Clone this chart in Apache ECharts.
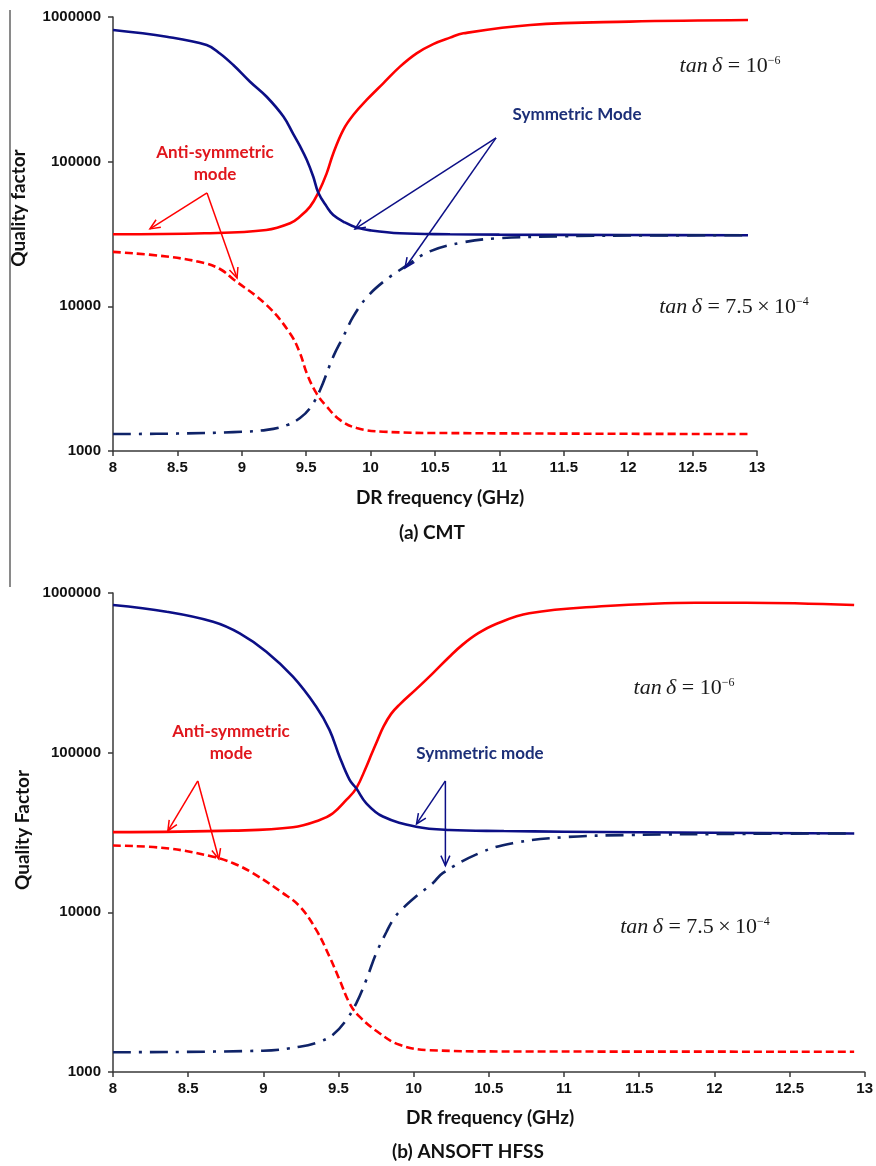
<!DOCTYPE html>
<html>
<head>
<meta charset="utf-8">
<script src="https://cdn.jsdelivr.net/npm/echarts@6/dist/echarts.min.js"></script>
<style>
html, body { margin: 0; padding: 0; background: #fff; }
#main { width: 876px; height: 1166px; }
</style>
</head>
<body>
<div id="main"></div>
<script>
// x ticks (GHz) and y ticks (quality factor), shared by both panels
var freqTicks = [8, 8.5, 9, 9.5, 10, 10.5, 11, 11.5, 12, 12.5, 13];
var qTicks = [1000, 10000, 100000, 1000000];

// (a) CMT
var cmtSymFreq = [8.0, 8.417, 8.727, 8.83, 8.934, 9.064, 9.193, 9.323, 9.40, 9.452, 9.504, 9.555, 9.594, 9.659, 9.71, 9.80, 9.892, 10.0, 10.228, 10.617, 11.0, 12.0, 12.93];
var cmtSymQ = [813000, 731000, 640000, 560000, 466000, 357000, 281000, 205000, 155000, 128000, 103000, 78700, 61000, 48900, 42800, 38000, 35000, 33500, 32000, 31500, 31300, 31100, 31000];
var cmtAntiFreq = [8.0, 8.71, 9.19, 9.375, 9.452, 9.53, 9.594, 9.659, 9.71, 9.788, 9.865, 9.969, 10.098, 10.228, 10.357, 10.486, 10.617, 10.72, 11.24, 12.01, 12.93];
var cmtAntiQ = [31500, 32000, 33700, 37500, 41700, 48900, 61000, 83000, 114000, 166000, 210000, 267000, 348000, 454000, 561000, 650000, 720000, 771000, 881000, 929000, 953000];
var cmtAntiLossFreq = [8.0, 8.417, 8.71, 8.84, 8.934, 9.193, 9.375, 9.452, 9.504, 9.58, 9.659, 9.762, 9.892, 10.098, 10.617, 12.93];
var cmtAntiLossQ = [23800, 22100, 19900, 17900, 15400, 10200, 6500, 4740, 3450, 2500, 2030, 1640, 1440, 1360, 1330, 1310];
var cmtSymLossFreq = [8.0, 8.5, 8.934, 9.193, 9.35, 9.452, 9.53, 9.607, 9.71, 9.788, 9.865, 9.969, 10.1, 10.267, 10.46, 10.72, 10.98, 11.5, 12.2, 12.93];
var cmtSymLossQ = [1310, 1320, 1350, 1400, 1510, 1690, 1980, 2630, 4490, 6170, 8480, 11500, 14800, 18800, 24000, 27700, 29500, 30500, 30900, 31000];

// (b) ANSOFT HFSS
var hfssSymFreq = [8.0, 8.356, 8.666, 8.843, 9.02, 9.197, 9.352, 9.44, 9.507, 9.574, 9.618, 9.685, 9.795, 10.017, 10.238, 10.6, 11.0, 12.0, 12.93];
var hfssSymQ = [841000, 764000, 661000, 559000, 429000, 299000, 194000, 139000, 94400, 67500, 59800, 48200, 39800, 34400, 32800, 32300, 32000, 31500, 31200];
var hfssAntiFreq = [8.0, 8.8, 9.197, 9.375, 9.463, 9.552, 9.618, 9.685, 9.72, 9.76, 9.80, 9.85, 9.906, 10.017, 10.127, 10.238, 10.326, 10.43, 10.548, 10.769, 11.212, 11.876, 12.21, 12.93];
var hfssAntiQ = [31800, 32500, 34100, 37900, 41700, 50600, 59800, 81700, 98000, 120000, 146000, 175000, 200000, 250000, 314000, 399000, 475000, 560000, 640000, 746000, 821000, 869000, 869000, 841000];
var hfssAntiLossFreq = [8.0, 8.356, 8.666, 8.8, 8.93, 9.13, 9.242, 9.352, 9.44, 9.507, 9.574, 9.64, 9.773, 9.906, 10.105, 10.6, 12.93];
var hfssAntiLossQ = [26200, 25200, 22300, 20300, 17600, 13200, 10900, 7760, 5280, 3780, 2690, 2220, 1750, 1480, 1370, 1345, 1340];
var hfssSymLossFreq = [8.0, 8.998, 9.242, 9.375, 9.463, 9.552, 9.618, 9.685, 9.751, 9.818, 9.86, 9.906, 10.017, 10.127, 10.193, 10.437, 10.658, 10.99, 11.43, 12.2, 12.93];
var hfssSymLossQ = [1330, 1360, 1440, 1550, 1710, 2120, 2690, 3780, 5550, 7500, 8900, 10100, 12600, 15200, 17600, 23500, 27100, 29500, 30500, 31000, 31200];

// annotation arrows: [apex, tip, tip] in data coords, per panel
var cmtArrows = {
    anti: [[8.73, 60800], [8.287, 34300], [8.963, 15700]],
    sym: [[10.974, 146000], [9.879, 34300], [10.267, 18400]]
};
var hfssArrows = {
    anti: [[8.564, 66500], [8.365, 32400], [8.704, 21600]],
    sym: [[10.211, 66500], [10.019, 35800], [10.211, 19600]]
};

var RED = '#ff0000';
var NAVY = '#0c0f86';
var NAVY_DD = '#0f2368';
var TEXT_RED = '#e0161c';
var TEXT_NAVY = '#1c2f78';

function zip(xs, ys) {
    return xs.map(function (x, i) { return [x, ys[i]]; });
}

function curve(name, idx, xs, ys, color, type) {
    return {
        name: name,
        type: 'line',
        xAxisIndex: idx,
        yAxisIndex: idx,
        data: zip(xs, ys),
        showSymbol: false,
        smooth: 0.4,
        lineStyle: { color: color, width: 2.6, type: type || 'solid' },
        silent: true
    };
}

function xAxisFor(idx) {
    return {
        type: 'value',
        gridIndex: idx,
        min: freqTicks[0],
        max: freqTicks[freqTicks.length - 1],
        interval: 0.5,
        splitLine: { show: false },
        axisLine: { lineStyle: { color: '#3a3a3a', width: 1.5 } },
        axisTick: { length: 5, lineStyle: { color: '#3a3a3a', width: 1.5 } },
        axisLabel: {
            margin: 9,
            color: '#111',
            fontFamily: 'Liberation Sans',
            fontWeight: 'bold',
            fontSize: 15,
            formatter: function (v) { return String(v); }
        }
    };
}

function yAxisFor(idx) {
    return {
        type: 'log',
        logBase: 10,
        gridIndex: idx,
        min: qTicks[0],
        max: qTicks[qTicks.length - 1],
        splitLine: { show: false },
        axisLine: { lineStyle: { color: '#3a3a3a', width: 1.5 } },
        axisTick: { length: 5, lineStyle: { color: '#3a3a3a', width: 1.5 } },
        axisLabel: {
            margin: 12,
            color: '#111',
            fontFamily: 'Liberation Sans',
            fontWeight: 'bold',
            fontSize: 15,
            formatter: function (v) { return String(Math.round(v)); }
        }
    };
}

var myChart = echarts.init(document.getElementById('main'));

option = {
    backgroundColor: '#fff',
    animation: false,
    grid: [
        { left: 113, top: 17, width: 644, height: 434 },
        { left: 113, top: 593, width: 753, height: 479 }
    ],
    xAxis: [xAxisFor(0), xAxisFor(1)],
    yAxis: [yAxisFor(0), yAxisFor(1)],
    series: [
        curve('CMT anti 1e-6', 0, cmtAntiFreq, cmtAntiQ, RED),
        curve('CMT sym 1e-6', 0, cmtSymFreq, cmtSymQ, NAVY),
        curve('CMT anti 7.5e-4', 0, cmtAntiLossFreq, cmtAntiLossQ, RED, [8, 4]),
        curve('CMT sym 7.5e-4', 0, cmtSymLossFreq, cmtSymLossQ, NAVY_DD, [18, 8, 3, 8]),
        curve('HFSS anti 1e-6', 1, hfssAntiFreq, hfssAntiQ, RED),
        curve('HFSS sym 1e-6', 1, hfssSymFreq, hfssSymQ, NAVY),
        curve('HFSS anti 7.5e-4', 1, hfssAntiLossFreq, hfssAntiLossQ, RED, [8, 4]),
        curve('HFSS sym 7.5e-4', 1, hfssSymLossFreq, hfssSymLossQ, NAVY_DD, [18, 8, 3, 8])
    ]
};

myChart.setOption(option);

// ---- annotations ----
function arrowGraphics(gridIndex, group, color) {
    var apex = myChart.convertToPixel({ gridIndex: gridIndex }, group[0]);
    var out = [];
    for (var i = 1; i < group.length; i++) {
        var tip = myChart.convertToPixel({ gridIndex: gridIndex }, group[i]);
        var ang = Math.atan2(tip[1] - apex[1], tip[0] - apex[0]);
        var len = 11, spread = 0.42;
        var p1 = [tip[0] - len * Math.cos(ang - spread), tip[1] - len * Math.sin(ang - spread)];
        var p2 = [tip[0] - len * Math.cos(ang + spread), tip[1] - len * Math.sin(ang + spread)];
        out.push({ type: 'polyline', z: 50, shape: { points: [apex, tip] }, style: { stroke: color, lineWidth: 1.5, fill: null } });
        out.push({ type: 'polyline', z: 50, shape: { points: [p1, tip, p2] }, style: { stroke: color, lineWidth: 1.5, fill: null } });
    }
    return out;
}

function label(x, y, text, color, font, extra) {
    var el = {
        type: 'text',
        z: 60,
        x: x,
        y: y,
        style: {
            text: text,
            fill: color,
            font: font,
            align: 'center',
            verticalAlign: 'middle',
            textAlign: 'center',
            textVerticalAlign: 'middle'
        }
    };
    if (text.indexOf('\n') >= 0) el.style.lineHeight = 22;
    if (extra) {
        for (var k in extra) el[k] = extra[k];
    }
    return el;
}

function tanLabel(x, y, value, exp) {
    var el = label(x, y, '{i|tan\u2009δ} = ' + value + '{s|' + exp + '}', '#1a1a1a', '22px "Liberation Serif"');
    el.style.rich = {
        i: { fontStyle: 'italic', fontFamily: 'Liberation Serif', fontSize: 22, fill: '#1a1a1a' },
        s: { fontFamily: 'Liberation Serif', fontSize: 12, verticalAlign: 'top', fill: '#1a1a1a', padding: [0, 0, 6, 0] }
    };
    return el;
}

var AX_FONT = 'bold 19px Lato';
var NOTE_FONT = 'bold 17px Lato';

var graphics = [
    // frame line on the left of panel (a)
    { type: 'line', shape: { x1: 10, y1: 10, x2: 10, y2: 587 }, style: { stroke: '#8a8a8a', lineWidth: 2 } },

    label(19, 208, 'Quality factor', '#111', AX_FONT, { rotation: Math.PI / 2 }),
    label(440, 498, 'DR frequency (GHz)', '#111', AX_FONT),
    label(432, 533, '(a) CMT', '#111', AX_FONT),
    label(215, 164, 'Anti-symmetric\nmode', TEXT_RED, NOTE_FONT),
    label(577, 115, 'Symmetric Mode', TEXT_NAVY, NOTE_FONT),
    tanLabel(730, 66, '10', '\u22126'),
    tanLabel(734, 307, '7.5\u2009×\u200910', '\u22124'),

    label(23, 830, 'Quality Factor', '#111', AX_FONT, { rotation: Math.PI / 2 }),
    label(490, 1118, 'DR frequency (GHz)', '#111', AX_FONT),
    label(468, 1152, '(b) ANSOFT HFSS', '#111', AX_FONT),
    label(231, 743, 'Anti-symmetric\nmode', TEXT_RED, NOTE_FONT),
    label(480, 754, 'Symmetric mode', TEXT_NAVY, NOTE_FONT),
    tanLabel(684, 688, '10', '\u22126'),
    tanLabel(695, 927, '7.5\u2009×\u200910', '\u22124')
];

graphics = graphics
    .concat(arrowGraphics(0, cmtArrows.anti, RED))
    .concat(arrowGraphics(0, cmtArrows.sym, NAVY))
    .concat(arrowGraphics(1, hfssArrows.anti, RED))
    .concat(arrowGraphics(1, hfssArrows.sym, NAVY));

myChart.setOption({ graphic: graphics });
window.onresize = myChart.resize;
</script>
</body>
</html>
